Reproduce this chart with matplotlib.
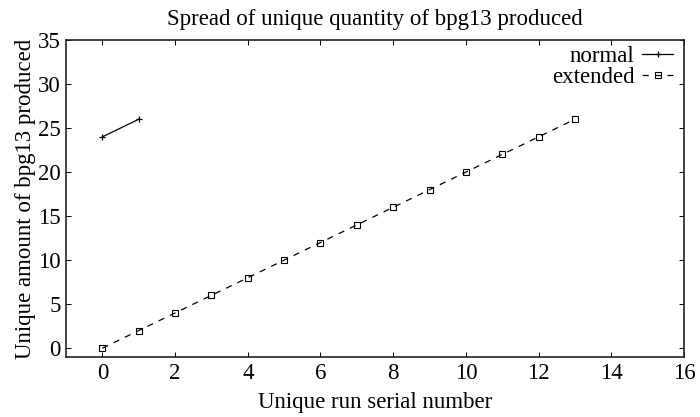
import matplotlib
matplotlib.use("Agg")
import matplotlib.pyplot as plt

normal_x = [0, 1]
normal_y = [24, 26]
extended_x = list(range(0, 14))
extended_y = [0, 2, 4, 6, 8, 10, 12, 14, 16, 18, 20, 22, 24, 26]
xticks = [0, 2, 4, 6, 8, 10, 12, 14, 16]
yticks = [0, 5, 10, 15, 20, 25, 30, 35]

FS = 16.5
plt.rcParams['font.family'] = ['Liberation Serif', 'DejaVu Serif']
plt.rcParams['font.size'] = FS

fig = plt.figure(figsize=(7.0, 4.17), dpi=100)
ax = fig.add_axes([66/700, 1-357/417, (684-66)/700, (357-40)/417])

ax.plot(normal_x, normal_y, color='black', lw=0.9, marker='+', ms=5, mew=0.9, label='normal')
ax.plot(extended_x, extended_y, color='black', lw=0.9, ls=(0, (5, 5)), marker='s', ms=4.5,
        mfc='none', mew=0.8, label='extended')

ax.set_xlim(-1, 16)
ax.set_ylim(-1, 35)
ax.set_xticks(xticks)
ax.set_yticks(yticks)
ax.tick_params(direction='in', top=True, right=True, length=3.5, width=0.7, labelsize=FS, pad=4)
for s in ax.spines.values():
    s.set_linewidth(1.2)
    s.set_color('#222222')

ax.set_title('Spread of unique quantity of bpg13 produced', fontsize=FS, pad=11)
ax.set_xlabel('Unique run serial number', fontsize=FS, labelpad=6)
ax.set_ylabel('Unique amount of bpg13 produced', fontsize=FS, labelpad=1.5)

leg = ax.legend(loc='upper right', bbox_to_anchor=(1 - 5/618, 1.0), frameon=False,
                markerfirst=False, handlelength=1.35, handletextpad=0.35,
                borderaxespad=0.2, borderpad=0.05, labelspacing=0.0, fontsize=FS)

fig.savefig('out.png', dpi=100)
